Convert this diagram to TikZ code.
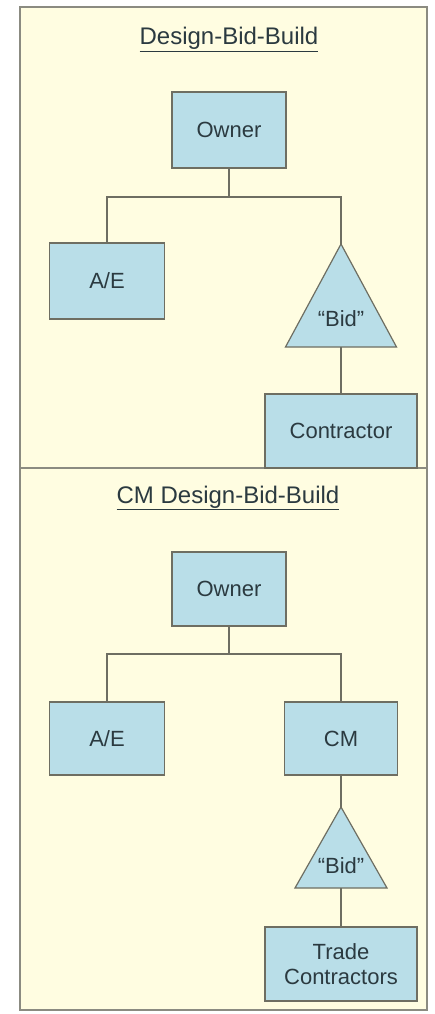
\documentclass[tikz,border=0pt]{standalone}
\usepackage{fontspec}
\setmainfont{Liberation Sans}
\definecolor{paper}{HTML}{FFFDE1}
\definecolor{boxblue}{HTML}{B9DEE8}
\definecolor{rule}{HTML}{6E6E62}
\definecolor{ink}{HTML}{2B3A40}
\tikzset{
  box/.style={draw=rule, line width=1.2pt, fill=boxblue, text=ink, inner sep=0pt,
    align=center, font=\fontsize{22}{25}\selectfont},
  tri/.style={draw=rule, line width=1.2pt, fill=boxblue, line join=miter},
  wire/.style={draw=rule, line width=1.3pt},
  head/.style={text=ink, anchor=base, font=\fontsize{24}{28}\selectfont},
  panel/.style={fill=paper, draw=rule!80, line width=1.5pt},
}
\begin{document}
\begin{tikzpicture}[x=1pt,y=-1pt]
    \useasboundingbox (0,0) rectangle (434,1014);
    \fill[white] (0,0) rectangle (434,1014);
    \path[panel] (20,7) rectangle (427,468);
    \path[panel] (20,468) rectangle (427,1010);
    % Design-Bid-Build
    \node[head] (T0) at (229,45) {\underline{Design-Bid-Build}};
    \node[box,minimum width=114,minimum height=76] (A0_1) at (229,130) {Owner};
    \node[box,minimum width=115,minimum height=76] (A1_0) at (107,281) {A/E};
    \coordinate (J0) at (229,197);
    \coordinate (A1_2t) at (341,244);
    \coordinate (A1_2b) at (341,347);
    \draw[tri] (A1_2t) -- (285.5,347) -- (396.5,347) -- cycle;
    \node[text=ink,font=\fontsize{22}{25}\selectfont] (A1_2) at (341,319) {“Bid”};
    \node[box,minimum width=152,minimum height=74] (A2_2) at (341,431) {Contractor};
    \path[wire] (A0_1) edge (J0);
    \draw[wire] (A1_0.north) |- (J0) -| (A1_2t);
    \path[wire] (A1_2b) edge (A2_2);
    % CM Design-Bid-Build
    \node[head] (T1) at (228,503) {\underline{CM Design-Bid-Build}};
    \node[box,minimum width=114,minimum height=74] (B0_1) at (229,589) {Owner};
    \node[box,minimum width=115,minimum height=73] (B1_0) at (107,738.5) {A/E};
    \node[box,minimum width=113,minimum height=73] (B1_2) at (341,738.5) {CM};
    \coordinate (J1) at (229,654);
    \coordinate (B2_2t) at (341,807);
    \coordinate (B2_2b) at (341,888);
    \draw[tri] (B2_2t) -- (295,888) -- (387,888) -- cycle;
    \node[text=ink,font=\fontsize{22}{25}\selectfont] (B2_2) at (341,866) {“Bid”};
    \node[box,minimum width=152,minimum height=74] (B3_2) at (341,964) {Trade\\Contractors};
    \path[wire] (B0_1) edge (J1);
    \draw[wire] (B1_0.north) |- (J1) -| (B1_2.north);
    \path[wire] (B1_2) edge (B2_2t);
    \path[wire] (B2_2b) edge (B3_2);
\end{tikzpicture}
\end{document}
